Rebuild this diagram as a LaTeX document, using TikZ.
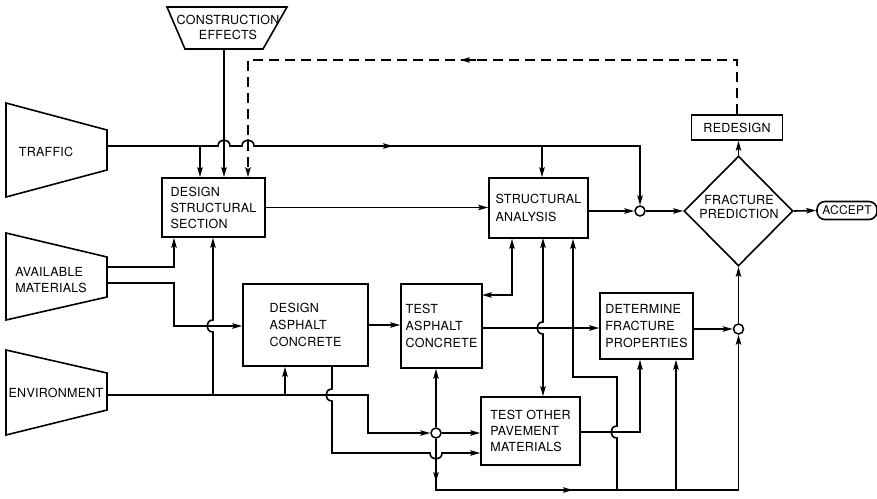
\documentclass[tikz,border=0pt]{standalone}
\usepackage{fontspec}
\setmainfont{TeX Gyre Heros}[LetterSpace=2]
\usetikzlibrary{arrows.meta,shapes.geometric,calc}
\begin{document}
\begin{tikzpicture}[x=1pt,y=-1pt,
  every node/.style={font=\fontsize{12.5}{16}\selectfont},
  box/.style={draw,line width=1.6pt,align=left,inner sep=0pt},
  shapeline/.style={line width=1.6pt,line join=miter},
  ln/.style={line width=1.6pt},
  arr/.style={ln,-{Stealth[length=10pt,width=5.5pt,inset=2pt]}},
  barr/.style={ln,{Stealth[length=10pt,width=5.5pt,inset=2pt]}-{Stealth[length=10pt,width=5.5pt,inset=2pt]}},
  circ/.style={draw,circle,line width=1.5pt,minimum size=10pt,inner sep=0pt,fill=white},
  dashline/.style={dash pattern=on 10pt off 6pt}]
\useasboundingbox (0,0) rectangle (877,498);

% source shapes
\draw[shapeline] (6,103) -- (107,130) -- (107,170) -- (6,197) -- cycle;
\node (traffic) at (46,152) {TRAFFIC};
\coordinate (trout) at (107,146);

\draw[shapeline] (6,233) -- (107,257) -- (107,297) -- (6,320) -- cycle;
\node[align=left] (avail) at (51,280) {AVAILABLE\\MATERIALS};
\coordinate (am1) at (107,267);
\coordinate (am2) at (107,283);

\draw[shapeline] (6,350) -- (107,373) -- (107,410) -- (6,435) -- cycle;
\node (env) at (56,393) {ENVIRONMENT};
\coordinate (envout) at (107,395);

\draw[shapeline] (167,7) -- (287,7) -- (263,49) -- (185,49) -- cycle;
\node[align=center,font=\fontsize{12.5}{15}\selectfont] (ce) at (228,27) {CONSTRUCTION\\EFFECTS};
\coordinate (ceout) at (224,49);

% boxes
\node[box,minimum width=103pt,minimum height=59pt] (dss) at (213.5,207.5) {DESIGN\\STRUCTURAL\\SECTION};
\node[box,minimum width=99pt,minimum height=60pt,font=\fontsize{12.5}{18}\selectfont] (sa) at (538.5,208) {STRUCTURAL\\ANALYSIS};
\node[box,minimum width=125pt,minimum height=82pt,font=\fontsize{12.5}{17}\selectfont] (dac) at (305.5,325) {DESIGN\\ASPHALT\\CONCRETE};
\node[box,minimum width=81pt,minimum height=84pt,font=\fontsize{12.5}{17}\selectfont] (tac) at (441.5,326) {TEST\\ASPHALT\\CONCRETE};
\node[box,minimum width=99pt,minimum height=68pt] (topm) at (530.5,431) {TEST OTHER\\PAVEMENT\\MATERIALS};
\node[box,minimum width=93pt,minimum height=66pt,font=\fontsize{12.5}{17}\selectfont] (dfp) at (646.5,326) {DETERMINE\\FRACTURE\\PROPERTIES};
\node[box,minimum width=91pt,minimum height=25pt,align=center] (rd) at (737,127.5) {REDESIGN};
\node[draw,diamond,line width=1.6pt,minimum width=109pt,minimum height=110pt,inner sep=0pt] (fp) at (738.5,211) {};
\node[align=center,font=\fontsize{12.5}{14}\selectfont] (fptxt) at (739,207) {FRACTURE\\PREDICTION};
\node[box,rounded corners=8pt,minimum width=60pt,minimum height=18pt,align=center,font=\fontsize{12}{13}\selectfont] (acc) at (847,210.5) {ACCEPT};

% junction circles
\node[circ] (c1) at (640,211) {};
\node[circ] (c2) at (738.5,329) {};
\node[circ] (c3) at (436,433) {};

% traffic
\draw[arr] (trout) -- (218,146) .. controls (218,138) and (230,138) .. (230,146)
  -- (242,146) .. controls (242,138) and (254,138) .. (254,146) -- (c1 |- trout) -- (c1.north);
\coordinate (j1) at (200,146);
\draw[arr] (j1) -- (j1 |- dss.north);
\coordinate (j2) at (542,146);
\draw[arr] (j2) -- (j2 |- sa.north);
\draw[arr] (376,146) -- (393,146);

% construction effects
\draw[arr] (ceout) -- (ceout |- dss.north);

% redesign feedback (dashed)
\coordinate (dx) at (248,60);
\draw[arr,dashline] (rd.north) -- (rd.north |- dx) -- (dx) -- (dx |- dss.north);
\draw[arr] (476,60) -- (460,60);

% main chain
\draw[arr] (dss.east) -- (dss.east -| sa.west);
\draw[arr] (sa.east |- c1) -- (c1.west);
\draw[arr] (c1.east) -- (fp.west);
\draw[arr] (fp.east) -- (acc.west);
\draw[arr] (fp.north) -- (fp.north |- rd.south);

% available materials
\coordinate (a1) at (174,267);
\draw[arr] (am1) -- (a1) -- (a1 |- dss.south);
\coordinate (a2) at (174,283);
\coordinate (a3) at (174,326);
\draw[arr] (am2) -- (a2) -- (a3) -- (a3 -| dac.west);

% environment
\coordinate (e1) at (368,395);
\draw[arr] (envout) -- (e1) -- (e1 |- c3) -- (c3.west);
\coordinate (e2) at (213,395);
\draw[arr] (e2) -- (213,332) .. controls (205,332) and (205,320) .. (213,320) -- (e2 |- dss.south);
\coordinate (e3) at (285,395);
\draw[arr] (e3) -- (e3 |- dac.south);

% design asphalt concrete outputs
\coordinate (o1) at (332,366);
\coordinate (o2) at (332,453);
\draw[arr] (o1) -- (332,389) .. controls (324,389) and (324,401) .. (332,401) -- (o2)
  -- (430,453) .. controls (430,461) and (442,461) .. (442,453) -- (o2 -| topm.west);
\draw[arr] (dac.east) -- (dac.east -| tac.west);

% junction c3
\draw[arr] (c3.east) -- (c3.east -| topm.west);
\draw[arr] (c3.north) -- (c3.north |- tac.south);
\coordinate (b1) at (436,490);
\coordinate (b2) at (738.5,490);
\draw[arr] (c3.south) -- (b1) -- (b2) -- (c2.south);
\draw[arr] (436,466) -- (436,482);
\draw[arr] (556,490) -- (573,490);

% bottom bus branches
\coordinate (b3) at (617,490);
\coordinate (b4) at (617,377);
\coordinate (b5) at (573,377);
\draw[arr] (b3) -- (617,438) .. controls (609,438) and (609,426) .. (617,426) -- (b4) -- (b5) -- (b5 |- sa.south);
\coordinate (b6) at (676,490);
\draw[arr] (b6) -- (b6 |- dfp.south);

% test asphalt concrete
\coordinate (t1) at (482,295);
\coordinate (t2) at (512,295);
\draw[barr] (t1) -- (t2) -- (t2 |- sa.south);
\coordinate (t3) at (482,328);
\draw[arr] (t3) -- (t3 -| dfp.west);

% structural analysis <-> test other pavement materials
\coordinate (s1) at (543,238);
\draw[barr] (s1) -- (543,322) .. controls (535,322) and (535,334) .. (543,334) -- (s1 |- topm.north);

% test other pavement materials -> determine fracture properties
\coordinate (p1) at (580,432);
\coordinate (p2) at (640,432);
\draw[arr] (p1) -- (p2) -- (p2 |- dfp.south);

% fracture properties -> prediction
\draw[arr] (dfp.east |- c2) -- (c2.west);
\draw[arr] (c2.north) -- (fp.south);
\end{tikzpicture}
\end{document}
